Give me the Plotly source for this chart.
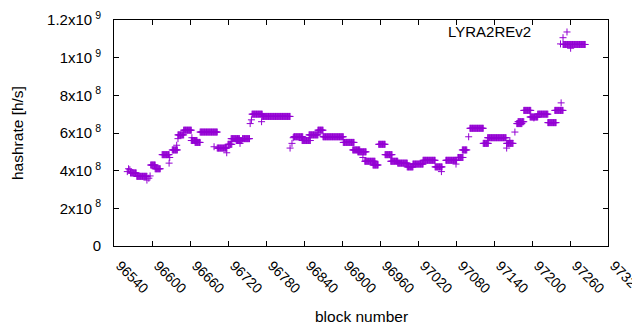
import plotly.graph_objects as go

# ---- data (values in units of 1e8 h/s) ----
# runs of consecutive blocks sharing one hashrate value
seg_start = [96566, 96576, 96598, 96605, 96616, 96632, 96641, 96650, 96662, 96668,
             96676, 96703, 96720, 96725, 96733, 96743, 96758, 96774, 96824, 96837,
             96848, 96862, 96870, 96902, 96917, 96925, 96936, 96949, 96958, 96968,
             96977, 96988, 97003, 97012, 97028, 97047, 97064, 97083, 97090, 97102,
             97123, 97130, 97160, 97176, 97178, 97187, 97197, 97209, 97225, 97236,
             97249]
seg_end = [96575, 96592, 96605, 96613, 96627, 96640, 96650, 96662, 96671, 96676,
           96703, 96718, 96726, 96738, 96742, 96754, 96774, 96818, 96838, 96850,
           96862, 96870, 96902, 96919, 96928, 96938, 96952, 96957, 96968, 96979,
           96988, 97003, 97012, 97028, 97047, 97058, 97081, 97091, 97097, 97123,
           97131, 97159, 97170, 97184, 97187, 97198, 97209, 97225, 97238, 97249,
           97284]
seg_value = [3.88, 3.7, 4.3, 4.1, 4.85, 5.1, 5.9, 6.15, 5.6, 5.5,
             6.05, 5.2, 5.4, 5.7, 5.6, 5.7, 7.0, 6.88, 5.8, 5.6,
             5.9, 6.15, 5.8, 5.5, 5.1, 5.0, 4.5, 4.3, 5.4, 4.85,
             4.5, 4.4, 4.2, 4.35, 4.55, 4.2, 4.55, 4.7, 5.1, 6.25,
             5.45, 5.75, 5.45, 6.5, 6.6, 7.2, 6.85, 7.0, 6.55, 7.2,
             10.7]

# single scattered blocks
pt_block = [96561, 96563, 96565, 96592, 96595, 96597, 96627, 96628, 96639, 96641,
            96663, 96698, 96718, 96739, 96755, 96757, 96773, 96818, 96821, 96823,
            96933, 97057, 97080, 97100, 97160, 97165, 97173, 97203, 97246, 97245,
            97249, 97261]
pt_value = [3.95, 4.1, 4.05, 3.5, 3.6, 3.72, 4.4, 4.7, 5.35, 5.7,
            5.75, 5.27, 4.95, 5.45, 6.5, 6.7, 6.6, 5.2, 5.45, 5.75,
            4.7, 3.95, 4.35, 5.8, 5.2, 5.6, 6.05, 6.8, 7.6, 10.73,
            11.06, 10.5]

x_ticks = list(range(96540, 97321, 60))
y_tickvals = [0, 2e8, 4e8, 6e8, 8e8, 1e9, 1.2e9]
y_ticktext = ["0", "2x10\u2009<sup>8</sup>", "4x10\u2009<sup>8</sup>", "6x10\u2009<sup>8</sup>",
              "8x10\u2009<sup>8</sup>", "1x10\u2009<sup>9</sup>", "1.2x10\u2009<sup>9</sup>"]
series_name = "LYRA2REv2"

# ---- build points ----
xs, ys = [], []
for s, e, v in zip(seg_start, seg_end, seg_value):
    for b in range(s, e + 1):
        xs.append(b)
        ys.append(v * 1e8)
for b, v in zip(pt_block, pt_value):
    xs.append(b)
    ys.append(v * 1e8)

C = "#9400d3"
FONT = "Liberation Sans, Arial, sans-serif"

fig = go.Figure()
fig.add_trace(go.Scatter(
    x=xs, y=ys, mode="markers", name=series_name, showlegend=False,
    marker=dict(symbol="cross-thin", size=5, color=C, line=dict(width=1, color=C)),
    cliponaxis=False,
))

axis_common = dict(
    showline=True, linecolor="black", linewidth=1, mirror="ticks",
    ticks="inside", ticklen=5, tickcolor="black", tickwidth=1,
    showgrid=False, zeroline=False, automargin=False,
    tickfont=dict(family=FONT, size=15, color="black"),
)
fig.update_xaxes(range=[96540, 97320], tickvals=x_ticks, showticklabels=False,
                 **axis_common)
fig.update_yaxes(range=[0, 1.2e9], tickvals=y_tickvals, ticktext=y_ticktext,
                 ticklabelstandoff=9, **axis_common)

# rotated x tick labels hanging down-right from each tick
for t in x_ticks:
    fig.add_annotation(xref="x", yref="paper", x=t, y=0, xanchor="left", yanchor="top",
                       xshift=-4, yshift=-8.5, text=str(t), textangle=45,
                       showarrow=False, font=dict(family=FONT, size=14, color="black"))

# key: text then sample symbol
fig.add_annotation(xref="paper", yref="paper", x=0.848, y=0.947, xanchor="right",
                   yanchor="middle", text=series_name, showarrow=False,
                   font=dict(family=FONT, size=15, color="black"))
kx, ky, dx, dy = 0.917, 0.947, 0.0071, 0.0155
fig.add_shape(type="line", xref="paper", yref="paper", x0=kx - dx, x1=kx + dx, y0=ky, y1=ky,
              line=dict(color=C, width=1))
fig.add_shape(type="line", xref="paper", yref="paper", x0=kx, x1=kx, y0=ky - dy, y1=ky + dy,
              line=dict(color=C, width=1))

# axis titles
fig.add_annotation(xref="paper", yref="paper", x=0.5, y=0, yshift=-70, xanchor="center",
                   yanchor="middle", text="block number", showarrow=False,
                   font=dict(family=FONT, size=15.5, color="black"))
fig.add_annotation(xref="paper", yref="paper", x=0, xshift=-97, y=0.5, xanchor="center",
                   yanchor="middle", text="hashrate [h/s]", textangle=-90, showarrow=False,
                   font=dict(family=FONT, size=15.5, color="black"))

# the page body adds an 8px offset, so the figure is 8px smaller on each axis
fig.update_layout(
    width=632, height=322,
    margin=dict(l=106, r=32, t=12, b=84),
    plot_bgcolor="white", paper_bgcolor="white",
    showlegend=False,
)

fig.write_html("out.html")
